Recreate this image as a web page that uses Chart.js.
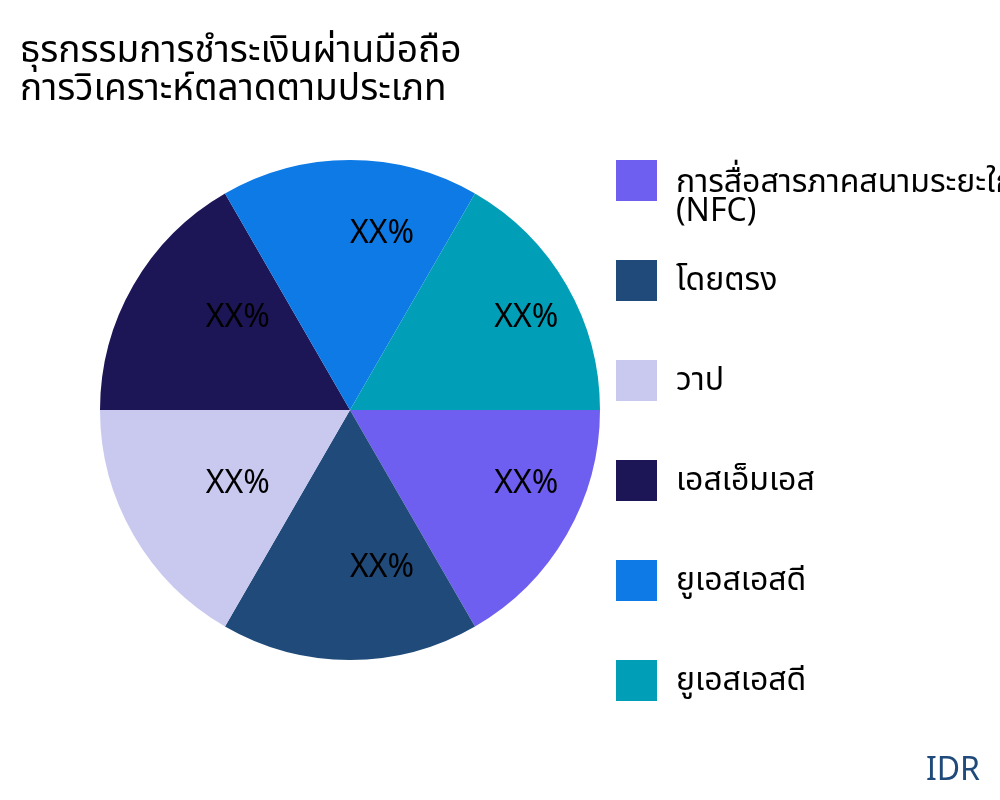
<!DOCTYPE html>
<html>
<head>
<meta charset="utf-8">
<script src="https://cdn.jsdelivr.net/npm/chart.js@4"></script>
<style>
  html, body { margin: 0; padding: 0; background: #fff; }
  #wrap { width: 1000px; height: 800px; position: relative; }
</style>
</head>
<body>
<div id="wrap"><canvas id="pie" width="1000" height="800"></canvas></div>
<script>
// Mobile payments - market share by type
const titleLines = ['ธุรกรรมการชำระเงินผ่านมือถือ', 'การวิเคราะห์ตลาดตามประเภท'];
const categories = [
  ['การสื่อสารภาคสนามระยะใกล้', '(NFC)'],
  ['โดยตรง'],
  ['วาป'],
  ['เอสเอ็มเอส'],
  ['ยูเอสเอสดี'],
  ['ยูเอสเอสดี']
];
const shares = [1, 1, 1, 1, 1, 1];
const sliceLabels = ['XX%', 'XX%', 'XX%', 'XX%', 'XX%', 'XX%'];
const colors = ['#6F5FF0', '#1F4A7A', '#C9C9F0', '#1C1657', '#0D7AE6', '#009FB7'];
const currency = 'IDR';

const FONT = '"Noto Sans", "Noto Sans Thai", "Noto Sans Thai UI", sans-serif';

// draws title, slice labels, legend and currency tag
const decorations = {
  id: 'decorations',
  afterDatasetsDraw(chart) {
    const ctx = chart.ctx;
    ctx.save();

    // slice labels at 2/3 radius, left-aligned on the baseline
    ctx.fillStyle = '#000';
    ctx.font = '32px ' + FONT;
    ctx.textAlign = 'left';
    ctx.textBaseline = 'alphabetic';
    chart.getDatasetMeta(0).data.forEach((arc, i) => {
      const p = arc.getProps(['x', 'y', 'startAngle', 'endAngle', 'outerRadius'], true);
      const mid = (p.startAngle + p.endAngle) / 2;
      const r = p.outerRadius * 2 / 3;
      ctx.fillText(sliceLabels[i], p.x + Math.cos(mid) * r, p.y + Math.sin(mid) * r);
    });

    // title
    ctx.fillStyle = '#000';
    ctx.font = '37px ' + FONT;
    titleLines.forEach((line, i) => ctx.fillText(line, 20, 62 + i * 38));

    // legend
    ctx.font = '32px ' + FONT;
    categories.forEach((lines, i) => {
      const top = 160 + i * 100;
      ctx.fillStyle = colors[i];
      ctx.fillRect(616, top, 41, 41);
      ctx.fillStyle = '#000';
      const first = lines.length > 1 ? 32 : 30;
      lines.forEach((t, j) => ctx.fillText(t, 676, top + first + j * 29));
    });

    // currency
    ctx.fillStyle = '#1F4A7A';
    ctx.font = '32px ' + FONT;
    ctx.textAlign = 'right';
    ctx.fillText(currency, 980, 780);

    ctx.restore();
  }
};

new Chart(document.getElementById('pie'), {
  type: 'pie',
  data: {
    labels: categories.map(c => c.join(' ')),
    datasets: [{
      data: shares,
      backgroundColor: colors,
      borderWidth: 0
    }]
  },
  options: {
    responsive: false,
    animation: false,
    rotation: 90,
    layout: { padding: { left: 100, right: 400, top: 160, bottom: 140 } },
    plugins: {
      legend: { display: false },
      tooltip: { enabled: false }
    }
  },
  plugins: [decorations]
});
</script>
</body>
</html>
